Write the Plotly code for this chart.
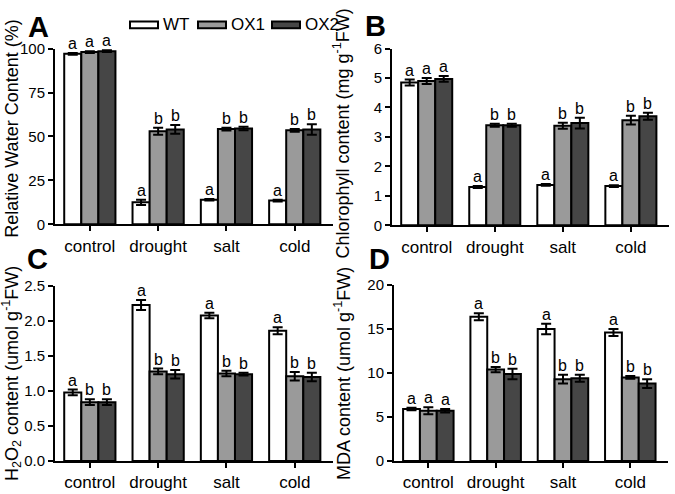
import plotly.graph_objects as go

categories = ["control", "drought", "salt", "cold"]
series_names = ["WT", "OX1", "OX2"]
series_colors = ["#ffffff", "#9a9a9a", "#464646"]

# Panel A: Relative water content (%)
rwc_wt = [97.0, 12.5, 14.0, 13.5]
rwc_ox1 = [98.0, 53.0, 54.2, 53.5]
rwc_ox2 = [98.5, 54.0, 54.5, 54.0]
rwc_wt_err = [0.5, 1.5, 0.4, 0.5]
rwc_ox1_err = [0.5, 2.0, 0.8, 0.8]
rwc_ox2_err = [0.5, 2.5, 1.0, 3.0]
rwc_letters = [["a", "a", "a", "a"], ["a", "b", "b", "b"], ["a", "b", "b", "b"]]

# Panel B: Chlorophyll content
chl_wt = [4.85, 1.30, 1.37, 1.33]
chl_ox1 = [4.90, 3.40, 3.38, 3.57]
chl_ox2 = [4.97, 3.40, 3.47, 3.70]
chl_wt_err = [0.10, 0.03, 0.03, 0.03]
chl_ox1_err = [0.10, 0.05, 0.10, 0.15]
chl_ox2_err = [0.10, 0.05, 0.18, 0.12]
chl_letters = [["a", "a", "a", "a"], ["a", "b", "b", "b"], ["a", "b", "b", "b"]]

# Panel C: H2O2 content
h2o2_wt = [0.98, 2.23, 2.08, 1.86]
h2o2_ox1 = [0.84, 1.28, 1.25, 1.21]
h2o2_ox2 = [0.84, 1.24, 1.24, 1.20]
h2o2_wt_err = [0.04, 0.07, 0.04, 0.05]
h2o2_ox1_err = [0.04, 0.04, 0.04, 0.06]
h2o2_ox2_err = [0.04, 0.06, 0.02, 0.06]
h2o2_letters = [["a", "a", "a", "a"], ["b", "b", "b", "b"], ["b", "b", "b", "b"]]

# Panel D: MDA content
mda_wt = [5.9, 16.4, 15.0, 14.6]
mda_ox1 = [5.7, 10.4, 9.3, 9.5]
mda_ox2 = [5.7, 9.9, 9.4, 8.8]
mda_wt_err = [0.15, 0.4, 0.6, 0.4]
mda_ox1_err = [0.4, 0.3, 0.5, 0.15]
mda_ox2_err = [0.2, 0.6, 0.4, 0.5]
mda_letters = [["a", "a", "a", "a"], ["a", "b", "b", "b"], ["a", "b", "b", "b"]]

panels = [
    dict(vals=[rwc_wt, rwc_ox1, rwc_ox2], errs=[rwc_wt_err, rwc_ox1_err, rwc_ox2_err],
         letters=rwc_letters, yrange=[0, 100], dtick=25, fmt="d",
         title="Relative Water Content (%)", label="A"),
    dict(vals=[chl_wt, chl_ox1, chl_ox2], errs=[chl_wt_err, chl_ox1_err, chl_ox2_err],
         letters=chl_letters, yrange=[0, 6], dtick=1, fmt="d",
         title="Chlorophyll content (mg g<sup>-1</sup>FW)", label="B"),
    dict(vals=[h2o2_wt, h2o2_ox1, h2o2_ox2], errs=[h2o2_wt_err, h2o2_ox1_err, h2o2_ox2_err],
         letters=h2o2_letters, yrange=[0, 2.5], dtick=0.5, fmt=".1f",
         title="H<sub>2</sub>O<sub>2</sub> content (umol g<sup>-1</sup>FW)", label="C"),
    dict(vals=[mda_wt, mda_ox1, mda_ox2], errs=[mda_wt_err, mda_ox1_err, mda_ox2_err],
         letters=mda_letters, yrange=[0, 20], dtick=5, fmt="d",
         title="MDA content (umol g<sup>-1</sup>FW)", label="D"),
]

W, H = 675, 494
# pixel layout of each panel: (x_left, x_right, y_top, y_bottom)
boxes = [(55, 333, 41, 223), (392, 669, 41, 224), (55, 333, 287, 468), (394, 668, 286, 468)]
title_pos = [(12, 124), (342, 129), (12, 378), (343, 378)]
label_pos = [(38, 19), (375, 18), (37, 259), (379, 259)]

FONT = "Liberation Sans, Arial, sans-serif"
fig = go.Figure()
annotations = []
layout = {}
bw = 0.25
xidx = list(range(len(categories)))

for p, (panel, box) in enumerate(zip(panels, boxes)):
    ax = "" if p == 0 else str(p + 1)
    xl, xr, yt, yb = box
    for j in range(3):
        xs = [i + (j - 1) * bw for i in xidx]
        fig.add_trace(go.Bar(
            x=xidx, y=panel["vals"][j], width=bw, offset=-1.5 * bw + j * bw,
            marker=dict(color=series_colors[j], line=dict(color="black", width=2)),
            error_y=dict(type="data", array=panel["errs"][j], color="black",
                         thickness=2, width=5),
            name=series_names[j], showlegend=False,
            xaxis="x" + ax, yaxis="y" + ax,
        ))
        for i in xidx:
            annotations.append(dict(
                x=xs[i], y=panel["vals"][j][i] + panel["errs"][j][i],
                xref="x" + ax, yref="y" + ax, text=panel["letters"][j][i],
                showarrow=False, yanchor="bottom", yshift=-1,
                font=dict(size=16, color="black", family=FONT)))
    layout["xaxis" + ax] = dict(
        domain=[xl / W, xr / W], anchor="y" + ax, range=[-0.51, 3.56],
        tickvals=xidx, ticktext=categories, ticks="outside", ticklen=5, tickwidth=2,
        tickcolor="black", showline=True, linecolor="black", linewidth=2,
        showgrid=False, zeroline=False, tickfont=dict(size=17, color="black", family=FONT),
        fixedrange=True)
    layout["yaxis" + ax] = dict(
        domain=[(H - yb) / H, (H - yt) / H], anchor="x" + ax, range=panel["yrange"],
        dtick=panel["dtick"], tick0=0, tickformat=panel["fmt"], ticks="outside",
        ticklen=5, tickwidth=2, tickcolor="black", showline=True, linecolor="black",
        linewidth=2, showgrid=False, zeroline=False,
        tickfont=dict(size=15, color="black", family=FONT), fixedrange=True)
    tx, ty = title_pos[p]
    annotations.append(dict(
        x=tx / W, y=(H - ty) / H, xref="paper", yref="paper",
        text=panel["title"], textangle=-90, showarrow=False, xanchor="center",
        yanchor="middle", font=dict(size=18, color="black", family=FONT)))
    lx, ly = label_pos[p]
    annotations.append(dict(
        x=lx / W, y=(H - ly) / H, xref="paper", yref="paper",
        text="<b>%s</b>" % panel["label"], showarrow=False, xanchor="center",
        yanchor="middle", font=dict(size=29, color="black", family=FONT)))

# legend drawn manually
shapes = []
leg_x = [130, 198, 272]
for j, name in enumerate(series_names):
    x0 = leg_x[j]
    shapes.append(dict(type="rect", xref="paper", yref="paper",
                       x0=x0 / W, x1=(x0 + 28) / W, y0=(H - 20) / H, y1=(H - 13) / H,
                       fillcolor=series_colors[j], line=dict(color="black", width=2)))
    annotations.append(dict(x=(x0 + 31) / W, y=(H - 16.5) / H, xref="paper", yref="paper",
                            text=name, showarrow=False, xanchor="left", yanchor="middle",
                            font=dict(size=17, color="black", family=FONT)))

fig.update_layout(
    width=W, height=H, margin=dict(l=0, r=0, t=0, b=0),
    paper_bgcolor="white", plot_bgcolor="white", barmode="overlay",
    showlegend=False, annotations=annotations, shapes=shapes, **layout)

fig.write_html(
    "out.html",
    config={"displayModeBar": False},
    post_script="document.body.style.margin='0';document.body.style.padding='0';"
                "document.body.style.overflow='hidden';",
)
